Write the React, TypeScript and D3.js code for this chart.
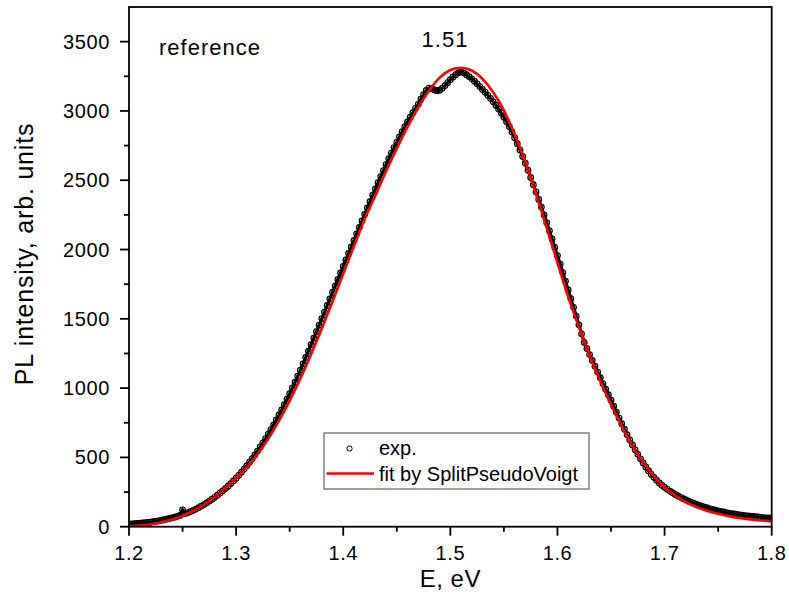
import React from 'react';
import * as d3 from 'd3';

// ---- data ----
const expStartE = 1.2;
const expStepE = 0.0025;
const expIntensity: number[] = [
  18, 20, 22, 23,
  25, 27, 29, 31,
  33, 36, 39, 42,
  46, 50, 54, 59,
  64, 69, 75, 81,
  122, 95, 102, 110,
  118, 127, 138, 149,
  160, 172, 185, 198,
  212, 227, 243, 259,
  275, 292, 311, 330,
  350, 371, 393, 416,
  440, 465, 491, 518,
  546, 575, 605, 636,
  668, 701, 735, 770,
  806, 843, 881, 920,
  960, 1001, 1043, 1086,
  1130, 1175, 1221, 1267,
  1314, 1361, 1408, 1455,
  1502, 1549, 1596, 1643,
  1690, 1737, 1784, 1831,
  1878, 1925, 1972, 2019,
  2066, 2113, 2160, 2207,
  2254, 2300, 2346, 2392,
  2437, 2482, 2526, 2570,
  2613, 2655, 2696, 2736,
  2775, 2813, 2850, 2886,
  2921, 2955, 2988, 3019,
  3048, 3085, 3118, 3148,
  3165, 3162, 3152, 3146,
  3150, 3164, 3183, 3205,
  3225, 3245, 3262, 3276,
  3282, 3275, 3262, 3248,
  3232, 3215, 3196, 3176,
  3155, 3135, 3113, 3090,
  3066, 3041, 3014, 2985,
  2955, 2922, 2886, 2848,
  2807, 2764, 2719, 2672,
  2623, 2572, 2520, 2468,
  2415, 2361, 2306, 2250,
  2193, 2135, 2076, 2016,
  1956, 1895, 1834, 1772,
  1709, 1646, 1583, 1520,
  1457, 1392, 1330, 1285,
  1242, 1200, 1158, 1116,
  1075, 1033, 992, 952,
  913, 869, 826, 784,
  743, 703, 664, 626,
  590, 555, 522, 490,
  460, 431, 404, 379,
  356, 335, 316, 299,
  284, 270, 257, 245,
  233, 222, 212, 202,
  193, 184, 176, 168,
  161, 154, 147, 141,
  135, 129, 124, 119,
  114, 110, 106, 102,
  98, 95, 92, 89,
  86, 83, 80, 78,
  76, 74, 72, 70,
  68, 66, 64, 63,
  62,
];

const fitStartE = 1.2;
const fitStepE = 0.01;
const fitIntensity: number[] = [
  3, 8, 17, 32, 52, 80, 115, 160, 215, 280,
  350, 430, 525, 635, 765, 910, 1070, 1245, 1430, 1625,
  1825, 2025, 2220, 2390, 2565, 2730, 2885, 3025, 3145, 3240,
  3295, 3312, 3292, 3232, 3135, 3005, 2830, 2630, 2400, 2155,
  1905, 1660, 1440, 1235, 1050, 880, 725, 585, 465, 365,
  285, 225, 178, 142, 114, 93, 76, 63, 53, 45,
  38,
];

const xTickValues = [1.2, 1.3, 1.4, 1.5, 1.6, 1.7, 1.8];
const xMinorTicks = [1.25, 1.35, 1.45, 1.55, 1.65, 1.75];
const yTickValues = [0, 500, 1000, 1500, 2000, 2500, 3000, 3500];
const yMinorTicks = [250, 750, 1250, 1750, 2250, 2750, 3250];

const peakLabel = '1.51';
const sampleLabel = 'reference';
const legendLabels = ['exp.', 'fit by SplitPseudoVoigt'];
const xTitle = 'E, eV';
const yTitle = 'PL intensity, arb. units';

// ---- layout ----
const W = 789;
const H = 596;
const plot = { left: 129, right: 771.7, top: 7, bottom: 526.7 };
const FONT = 'Liberation Sans, Arial, sans-serif';

export default function App() {
  const x = d3.scaleLinear().domain([1.2, 1.8]).range([plot.left, plot.right]);
  const y = d3.scaleLinear().domain([0, 3750]).range([plot.bottom, plot.top]);

  const expPts = expIntensity.map((v, i) => ({ e: expStartE + i * expStepE, v }));
  const fitPts = fitIntensity.map((v, i) => ({ e: fitStartE + i * fitStepE, v }));

  const fitLine = d3
    .line<{ e: number; v: number }>()
    .x((d) => x(d.e))
    .y((d) => y(d.v))
    .curve(d3.curveMonotoneX);

  const expLine = d3
    .line<{ e: number; v: number }>()
    .x((d) => x(d.e))
    .y((d) => y(d.v));

  const axisStroke = 1.8;

  return (
    <div style={{ position: 'absolute', left: 0, top: 0 }}>
      <svg width={W} height={H} style={{ display: 'block', background: '#fff' }} fontFamily={FONT}>
        <defs>
          <clipPath id="plotClip">
            <rect x={plot.left} y={plot.top} width={plot.right - plot.left} height={plot.bottom - plot.top} />
          </clipPath>
        </defs>

        {/* data */}
        <g clipPath="url(#plotClip)">
          <path d={expLine(expPts) || ''} fill="none" stroke="#000" strokeWidth={3.2} />
          {expPts.map((d, i) => (
            <circle key={i} cx={x(d.e)} cy={y(d.v)} r={2.8} fill="none" stroke="#000" strokeWidth={1.2} />
          ))}
          <path d={fitLine(fitPts) || ''} fill="none" stroke="#ff0000" strokeWidth={2.6} />
        </g>

        {/* frame */}
        <rect
          x={plot.left}
          y={plot.top}
          width={plot.right - plot.left}
          height={plot.bottom - plot.top}
          fill="none"
          stroke="#000"
          strokeWidth={axisStroke}
        />

        {/* x ticks */}
        {xTickValues.map((t) => (
          <g key={'xt' + t}>
            <line x1={x(t)} x2={x(t)} y1={plot.bottom} y2={plot.bottom + 9} stroke="#000" strokeWidth={axisStroke} />
            <text x={x(t)} y={560} fontSize={20} textAnchor="middle" fill="#000" letterSpacing={0.6}>
              {t.toFixed(1)}
            </text>
          </g>
        ))}
        {xMinorTicks.map((t) => (
          <line key={'xm' + t} x1={x(t)} x2={x(t)} y1={plot.bottom} y2={plot.bottom + 5} stroke="#000" strokeWidth={axisStroke} />
        ))}

        {/* y ticks */}
        {yTickValues.map((t) => (
          <g key={'yt' + t}>
            <line x1={plot.left - 9} x2={plot.left} y1={y(t)} y2={y(t)} stroke="#000" strokeWidth={axisStroke} />
            <text x={110} y={y(t) + 7} fontSize={20} textAnchor="end" fill="#000" letterSpacing={0.6}>
              {t}
            </text>
          </g>
        ))}
        {yMinorTicks.map((t) => (
          <line key={'ym' + t} x1={plot.left - 5} x2={plot.left} y1={y(t)} y2={y(t)} stroke="#000" strokeWidth={axisStroke} />
        ))}

        {/* axis titles */}
        <text x={(plot.left + plot.right) / 2} y={587} fontSize={24} textAnchor="middle" fill="#000" letterSpacing={0.5}>
          {xTitle}
        </text>
        <text
          transform={`translate(33, ${254}) rotate(-90)`}
          fontSize={25}
          textAnchor="middle"
          fill="#000"
          letterSpacing={0.8}
        >
          {yTitle}
        </text>

        {/* annotations */}
        <text x={159} y={55} fontSize={22} fill="#000" letterSpacing={1}>
          {sampleLabel}
        </text>
        <text x={445} y={47} fontSize={22} textAnchor="middle" fill="#000" letterSpacing={1}>
          {peakLabel}
        </text>

        {/* legend */}
        <g>
          <rect x={324} y={433} width={265} height={56} fill="#fff" stroke="#808080" strokeWidth={1.5} />
          <circle cx={349.5} cy={448.5} r={2.6} fill="none" stroke="#000" strokeWidth={1} />
          <text x={379} y={455} fontSize={20} fill="#000">
            {legendLabels[0]}
          </text>
          <line x1={326.5} x2={374} y1={473.5} y2={473.5} stroke="#ff0000" strokeWidth={2.6} />
          <text x={379} y={480.5} fontSize={20} fill="#000">
            {legendLabels[1]}
          </text>
        </g>
      </svg>
    </div>
  );
}
